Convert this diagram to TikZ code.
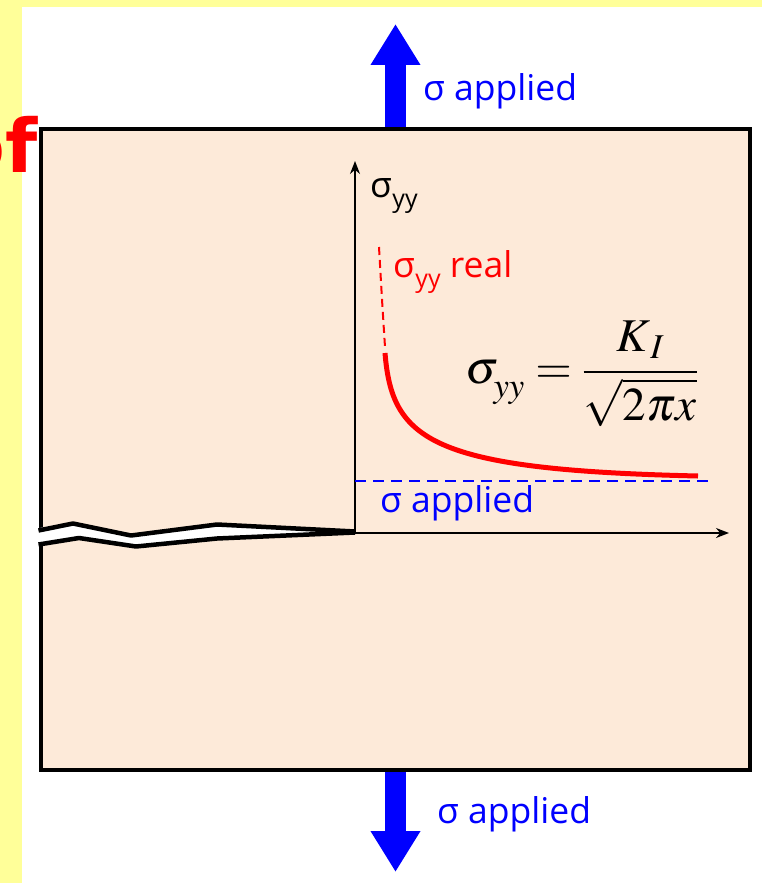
\documentclass[tikz,border=0pt]{standalone}
\usepackage{mathptmx}
\usepackage{fontspec}
\newfontfamily\labelfont{Open Sans}
\newfontfamily\headfont{DejaVu Sans}
\usepackage{tikz}
\usetikzlibrary{arrows.meta, positioning, calc}
\definecolor{slide}{RGB}{255,255,153}
\definecolor{plate}{RGB}{253,234,217}
\definecolor{load}{RGB}{0,0,255}
\newcommand{\syy}{σ\kern0.5pt\raisebox{-0.3em}{\fontsize{25}{25}\selectfont yy}}

\begin{document}
\begin{tikzpicture}[x=1pt, y=-1pt,
    lbl/.style={font=\labelfont\fontsize{35.5}{40}\selectfont, inner sep=0pt, anchor=base west},
    axis/.style={line width=1.6pt, -{Stealth[length=13pt, width=10pt]}},
    loadarrow/.style={load, line width=21pt, -{Triangle[length=41pt, width=47pt]}},
    crackline/.style={line width=4.5pt, line join=round}]
  \useasboundingbox (0,0) rectangle (762,883);
  \fill[slide] (0,0) rectangle (762,883);
  \fill[white] (22,7) rectangle (762,883);
  \node[font=\headfont\bfseries\fontsize{74}{80}\selectfont, text=red, inner sep=0pt, anchor=base east] (of) at (38,172) {of};

  % applied load
  \coordinate (topfoot) at (395.5,132);
  \coordinate (toptip)  at (395.5,24);
  \coordinate (botfoot) at (395.5,766);
  \coordinate (bottip)  at (395.5,872);
  \draw[loadarrow] (topfoot) -- (toptip);
  \draw[loadarrow] (botfoot) -- (bottip);
  \node[lbl, text=load] (toplbl) at (423,100) {σ applied};
  \node[lbl, text=load] (botlbl) at (437,823) {σ applied};

  % plate with crack
  \draw[line width=4pt, fill=plate] (40.5,128.7) rectangle (749.7,770);
  \fill[white] (34,529) -- (73,522) -- (131,534) -- (217,523) -- (355,531.5)
               -- (217,539.5) -- (136,548) -- (79,539) -- (34,546) -- cycle;
  \draw[crackline] (38.5,530.5) -- (73,523.5) -- (131,535.5) -- (217,524.5) -- (355,531.5);
  \draw[crackline] (38.5,544.5) -- (79,538) -- (136,546.5) -- (217,538.5) -- (355,532.5);

  % stress axes
  \coordinate (O) at (355,533);
  \coordinate (ytop) at (355,161);
  \coordinate (xend) at (729,533);
  \draw[axis] (O) -- (ytop);
  \draw[axis] (O) -- (xend);
  \node[lbl] (ylbl) at (370,197) {\syy};

  % nominal and real stress
  \draw[load, line width=2pt, dash pattern=on 11pt off 7pt] (O |- 0,481) -- (712,481);
  \node[lbl, text=load] (midlbl) at (380,512) {σ applied};
  \draw[red, line width=2pt, dash pattern=on 8pt off 5pt] (379,247) .. controls (382,300) .. (385,347);
  \draw[red, line width=5pt] (385,353) .. controls (392,440) and (430,470) .. (698,476);
  \node[lbl, text=red] (reallbl) at (393,277) {\syy{} real};
  \node[font=\fontsize{47}{54}\selectfont, inner sep=0pt, anchor=west] (law) at (465,374)
    {$\displaystyle \sigma_{\raisebox{-7pt}{$\scriptstyle yy$}} = \frac{K_{\,I}}{\sqrt{2\pi x}}$};
\end{tikzpicture}
\end{document}
